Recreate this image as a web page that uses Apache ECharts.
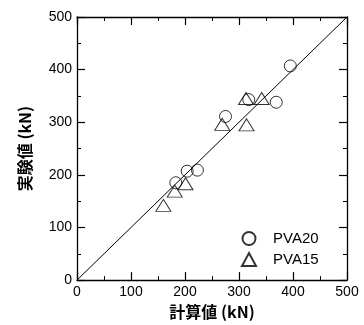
<!DOCTYPE html>
<html><head><meta charset="utf-8">
<script src="https://cdn.jsdelivr.net/npm/echarts@6/dist/echarts.min.js"></script>
<style>html,body{margin:0;padding:0;background:#fff}#c{width:364px;height:325px}</style>
</head><body><div id="c"></div>
<script>
const pva20 = [[395,407],[318,343],[369,338],[275,311],[204,207],[223,209],[183,185]];
const pva15 = [[313,345],[342,345],[269,296],[314,295],[201,183],[181,169],[160,142]];
const refLine = [[0,0],[500,500]];
const axisMin = 0, axisMax = 500, axisStep = 100;

const chart = echarts.init(document.getElementById('c'));
const font = 'Liberation Sans, Arial, sans-serif';
const cjk = '"Noto Sans CJK JP", sans-serif';
const base = {
  min: axisMin, max: axisMax, interval: axisStep,
  axisLine: {show: true, onZero: false, lineStyle: {color: '#000', width: 1.3}},
  axisTick: {show: true, inside: true, length: 8, lineStyle: {color: '#000', width: 1.2}},
  minorTick: {show: true, splitNumber: 2, length: 4, lineStyle: {color: '#000', width: 1}},
  splitLine: {show: false},
  axisLabel: {color: '#000', fontSize: 14, fontFamily: font, margin: 5}
};
chart.setOption({
  animation: false,
  grid: {left: 77, right: 17, top: 17, bottom: 44},
  legend: {
    orient: 'vertical', left: 236, top: 226, itemWidth: 14, itemHeight: 13, itemGap: 6,
    data: ['PVA20', 'PVA15'],
    textStyle: {color: '#000', fontSize: 15, fontFamily: font, padding: [0, 0, 0, 12]}
  },
  xAxis: [
    Object.assign({}, base, {type: 'value', position: 'bottom',
      name: '計算値 (kN)', nameLocation: 'middle', nameGap: 21,
      nameTextStyle: {color: '#000', fontSize: 16, fontWeight: 'bold', fontFamily: cjk}}),
    Object.assign({}, base, {type: 'value', position: 'top', axisLabel: {show: false}})
  ],
  yAxis: [
    Object.assign({}, base, {type: 'value', position: 'left',
      name: '実験値 (kN)', nameLocation: 'middle', nameGap: 44,
      nameTextStyle: {color: '#000', fontSize: 16, fontWeight: 'bold', fontFamily: cjk}}),
    Object.assign({}, base, {type: 'value', position: 'right', axisLabel: {show: false}})
  ],
  series: [
    {type: 'line', data: refLine, showSymbol: false, silent: true,
      lineStyle: {color: '#000', width: 1}},
    {name: 'PVA20', type: 'scatter', data: pva20, symbol: 'circle', symbolSize: 12,
      itemStyle: {color: 'rgba(255,255,255,0)', borderColor: '#000', borderWidth: 1}},
    {name: 'PVA15', type: 'scatter', data: pva15, symbol: 'triangle', symbolSize: [15, 12],
      itemStyle: {color: 'rgba(255,255,255,0)', borderColor: '#000', borderWidth: 1}}
  ]
});
</script></body></html>
